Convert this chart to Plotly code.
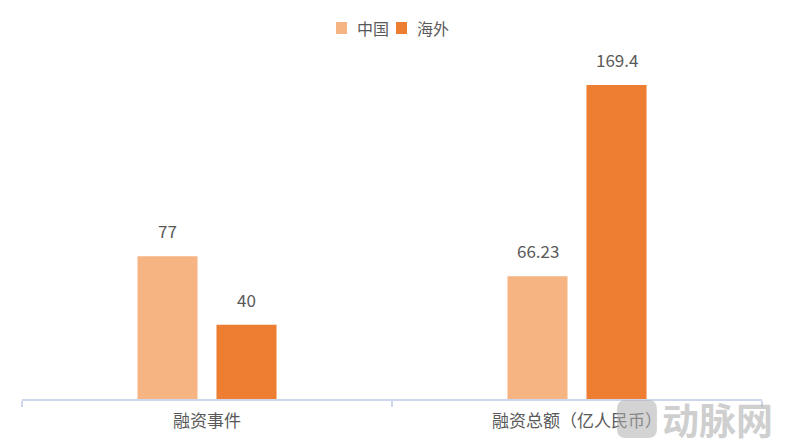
import plotly.graph_objects as go

categories = ["融资事件", "融资总额（亿人民币）"]
china = [77, 66.23]
overseas = [40, 169.4]
series_names = ["中国", "海外"]
china_labels = ["77", "66.23"]
overseas_labels = ["40", "169.4"]

c_china = "#F5B482"
c_over = "#ED7D31"
colors = [c_china, c_over]
txt = "#595959"
font_fam = "Noto Sans CJK SC, Noto Sans, sans-serif"

fig = go.Figure()
fig.add_bar(x=categories, y=china, name=series_names[0], marker_color=c_china,
            marker_line_width=0, showlegend=False)
fig.add_bar(x=categories, y=overseas, name=series_names[1], marker_color=c_over,
            marker_line_width=0, showlegend=False)

ann = []
for cat, v, lab in zip(categories, china, china_labels):
    ann.append(dict(x=cat, y=v, text=lab, showarrow=False, xshift=-39.5, yshift=11,
                    yanchor="bottom", font=dict(size=17, color=txt, family=font_fam)))
for cat, v, lab in zip(categories, overseas, overseas_labels):
    ann.append(dict(x=cat, y=v, text=lab, showarrow=False, xshift=39.5, yshift=11,
                    yanchor="bottom", font=dict(size=17, color=txt, family=font_fam)))

# legend (manual, top centre)
shapes = []
leg_sq_x = [0.4243, 0.5054]
sq_w = 0.0149
for name, col, sx in zip(series_names, colors, leg_sq_x):
    shapes.append(dict(type="rect", xref="paper", yref="paper", x0=sx, x1=sx + sq_w,
                       y0=1.0767, y1=1.1121, fillcolor=col, line_width=0))
    ann.append(dict(xref="paper", yref="paper", x=sx + sq_w + 0.0105, y=1.0944,
                    xanchor="left", yanchor="middle", text=name, showarrow=False,
                    font=dict(size=16, color=txt, family=font_fam)))

# watermark
ann.append(dict(xref="paper", yref="paper", x=1.018, y=-0.06, xanchor="right", yanchor="middle",
                text="<b>动脉网</b>", showarrow=False,
                font=dict(size=37, color="rgba(175,175,175,0.6)", family=font_fam)))

# logo rounded square in paper coords
x0, x1, y0, y1 = 0.804, 0.858, -0.115, -0.003
rx, ry = 0.012, 0.026
logo_path = (f"M {x0+rx} {y1} L {x1-rx} {y1} Q {x1} {y1} {x1} {y1-ry} "
             f"L {x1} {y0+ry} Q {x1} {y0} {x1-rx} {y0} L {x0+rx} {y0} "
             f"Q {x0} {y0} {x0} {y0+ry} L {x0} {y1-ry} Q {x0} {y1} {x0+rx} {y1} Z")
shapes.append(dict(type="path", xref="paper", yref="paper", path=logo_path,
                   fillcolor="rgba(175,175,175,0.55)", line_width=0, layer="above"))

fig.update_layout(
    width=777, height=440,
    margin=dict(l=14, r=23, t=52, b=49),
    paper_bgcolor="white", plot_bgcolor="white",
    barmode="group", bargap=0.573, bargroupgap=0.24,
    showlegend=False,
    xaxis=dict(showline=True, linecolor="#CDD6EC", linewidth=1.5,
               ticks="outside", tickson="boundaries", ticklen=6, tickcolor="#CDD6EC",
               tickwidth=1.5, ticklabelstandoff=6,
               tickfont=dict(size=17, color=txt, family=font_fam),
               showgrid=False),
    yaxis=dict(range=[0, 182.85], visible=False, showgrid=False, zeroline=False),
    annotations=ann,
    shapes=shapes,
)
fig.write_html("out.html")
